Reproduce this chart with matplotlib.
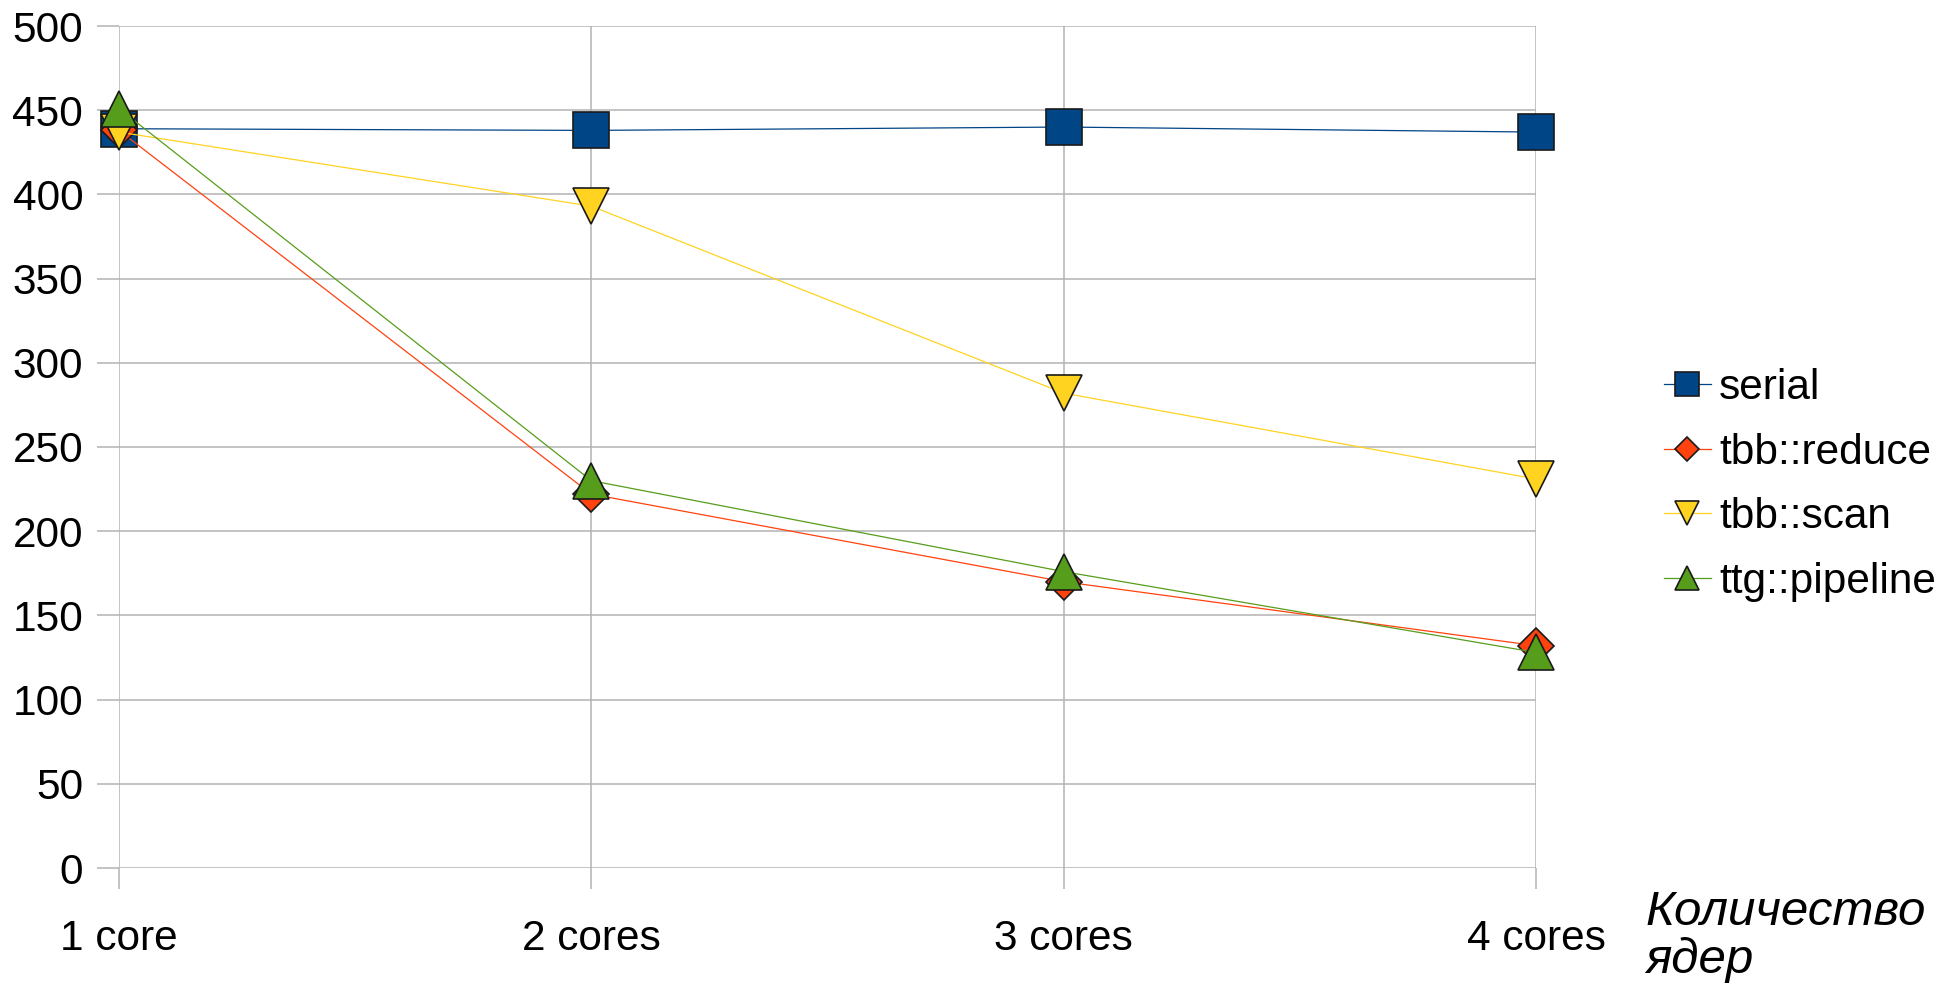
import matplotlib
matplotlib.use("Agg")
import matplotlib.pyplot as plt

plt.rcParams['font.family'] = ['Liberation Sans', 'DejaVu Sans']

cores = ["1 core", "2 cores", "3 cores", "4 cores"]
serial = [439, 438, 440, 437]
tbb_reduce = [438, 222, 170, 132]
tbb_scan = [437, 393, 282, 231]
ttg_pipeline = [451, 230, 176, 128]

grid_col = "#b3b3b3"
fs = 30.5
W, H = 1935, 983

fig = plt.figure(figsize=(W / 100, H / 100), dpi=100)
ax = fig.add_axes([119 / W, 1 - 868 / H, (1536 - 119) / W, (868 - 26) / H])

x = range(len(cores))
ax.plot(x, serial, color="#004586", lw=0.9, marker="s", ms=26.5,
        mfc="#004586", mec="#1a1a1a", mew=1.2, label="serial", clip_on=False)
ax.plot(x, tbb_reduce, color="#ff420e", lw=0.9, marker="D", ms=18.8,
        mfc="#ff420e", mec="#1a1a1a", mew=1.2, label="tbb::reduce", clip_on=False)
ax.plot(x, tbb_scan, color="#ffd320", lw=0.9, marker="v", ms=26.5,
        mfc="#ffd320", mec="#1a1a1a", mew=1.2, label="tbb::scan", clip_on=False)
ax.plot(x, ttg_pipeline, color="#579d1c", lw=0.9, marker="^", ms=26.5,
        mfc="#579d1c", mec="#1a1a1a", mew=1.2, label="ttg::pipeline", clip_on=False)

ax.set_xlim(0, 3)
ax.set_ylim(0, 500)
ax.set_xticks(list(x))
ax.set_xticklabels(cores)
ax.set_yticks(range(0, 501, 50))
for s in ax.spines.values():
    s.set_visible(False)
ax.grid(True, color=grid_col, lw=1.1)
ax.set_axisbelow(True)
ax.tick_params(axis="y", length=15.8, width=1.1, color=grid_col, pad=10, labelsize=fs)
ax.tick_params(axis="x", length=15, width=1.1, color=grid_col, pad=22, labelsize=fs)

# axis title, two lines below the right end of the x axis
fig.text(1645 / W, 1 - 925 / H, "Количество", fontsize=35.5, style="italic",
         ha="left", va="baseline")
fig.text(1645 / W, 1 - 973 / H, "ядер", fontsize=35.5, style="italic",
         ha="left", va="baseline")

fig.legend(loc="upper left", bbox_to_anchor=(1664 / W, 1 - 368 / H), frameon=False,
           fontsize=30.5, markerscale=0.63, handlelength=1.1, handletextpad=0.2,
           labelspacing=0.58, borderpad=0, borderaxespad=0)

fig.savefig("out.png", dpi=100)
